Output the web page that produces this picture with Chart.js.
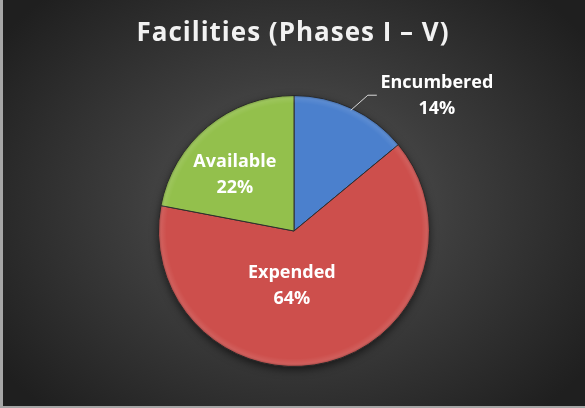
<!DOCTYPE html>
<html>
<head>
<meta charset="utf-8">
<script src="https://cdn.jsdelivr.net/npm/chart.js@4.4.0/dist/chart.umd.min.js"></script>
<style>
  html, body { margin: 0; padding: 0; background: #a6a6a6; }
  #wrap {
    position: absolute; left: 3px; top: 0; width: 582px; height: 406px;
    background: radial-gradient(ellipse 62% 70% at 50% 50%, #5a5a5a 0%, #3d3d3d 45%, #1f1f1f 100%);
  }
  canvas { position: absolute; left: -3px; top: 0; }
</style>
</head>
<body>
<div id="wrap"><canvas id="pieChart" width="585" height="408"></canvas></div>
<script>
// chart data
const categories = ["Encumbered", "Expended", "Available"];
const shares = [14, 64, 22];
const sliceColors = ["#4b80cd", "#cd4f4c", "#93c04c"];
const titleText = "Facilities (Phases I \u2013 V)";

// label nudges relative to each arc's mid point
const labelNudge = [
  { dx: 0, dy: 0, outside: true },
  { dx: -19, dy: -11 },
  { dx: -16, dy: -4 },
];

const FONT = "'Open Sans', 'DejaVu Sans', sans-serif";

const titlePlugin = {
  id: "titleText",
  afterDraw(chart) {
    const ctx = chart.ctx;
    ctx.save();
    ctx.fillStyle = "#f2f2f2";
    ctx.font = "bold 26px " + FONT;
    ctx.letterSpacing = "1px";
    ctx.textAlign = "center";
    ctx.textBaseline = "middle";
    ctx.fillText(titleText, 293, 34);
    ctx.restore();
  },
};

const shadowPlugin = {
  id: "pieShadow",
  beforeDatasetsDraw(chart) {
    const arc = chart.getDatasetMeta(0).data[0];
    const ctx = chart.ctx;
    ctx.save();
    ctx.shadowColor = "rgba(0,0,0,0.6)";
    ctx.shadowBlur = 8;
    ctx.shadowOffsetY = 3;
    ctx.fillStyle = "#333";
    ctx.beginPath();
    ctx.arc(arc.x, arc.y, arc.outerRadius, 0, Math.PI * 2);
    ctx.fill();
    ctx.restore();
  },
};

// soft bevel around the rim
const bevelPlugin = {
  id: "pieBevel",
  afterDatasetsDraw(chart) {
    const arc = chart.getDatasetMeta(0).data[0];
    const ctx = chart.ctx;
    const r = arc.outerRadius;
    ctx.save();
    const g = ctx.createRadialGradient(arc.x, arc.y, r - 8, arc.x, arc.y, r);
    g.addColorStop(0, "rgba(255,255,255,0)");
    g.addColorStop(0.6, "rgba(255,255,255,0.08)");
    g.addColorStop(1, "rgba(0,0,0,0.25)");
    ctx.fillStyle = g;
    ctx.beginPath();
    ctx.arc(arc.x, arc.y, r, 0, Math.PI * 2);
    ctx.fill();
    ctx.restore();
  },
};

const labelPlugin = {
  id: "sliceLabels",
  afterDatasetsDraw(chart) {
    const ctx = chart.ctx;
    const meta = chart.getDatasetMeta(0);
    ctx.save();
    ctx.fillStyle = "#ffffff";
    ctx.font = "bold 18px " + FONT;
    ctx.textAlign = "center";
    ctx.textBaseline = "middle";
    meta.data.forEach((arc, i) => {
      const pct = shares[i] + "%";
      const nudge = labelNudge[i];
      if (nudge.outside) {
        const mid = (arc.startAngle + arc.endAngle) / 2;
        const ex = arc.x + Math.cos(mid) * (arc.outerRadius - 2);
        const ey = arc.y + Math.sin(mid) * (arc.outerRadius - 2);
        ctx.strokeStyle = "#d9d9d9";
        ctx.lineWidth = 1;
        ctx.beginPath();
        ctx.moveTo(ex, ey);
        ctx.lineTo(ex + 17, ey - 15);
        ctx.lineTo(ex + 26, ey - 15);
        ctx.stroke();
        const lx = ex + 86, ly = ey - 14;
        ctx.fillText(categories[i], lx, ly - 13);
        ctx.fillText(pct, lx, ly + 13);
      } else {
        const p = arc.tooltipPosition();
        const lx = p.x + nudge.dx, ly = p.y + nudge.dy;
        ctx.fillText(categories[i], lx, ly - 13);
        ctx.fillText(pct, lx, ly + 13);
      }
    });
    ctx.restore();
  },
};

new Chart(document.getElementById("pieChart"), {
  type: "pie",
  data: {
    labels: categories,
    datasets: [
      {
        data: shares,
        backgroundColor: sliceColors,
        borderColor: "#2e2e2e",
        borderWidth: 1,
      },
    ],
  },
  options: {
    responsive: false,
    animation: false,
    layout: { padding: { left: 158, right: 155, top: 95, bottom: 41 } },
    plugins: {
      legend: { display: false },
      tooltip: { enabled: false },
      title: { display: false },
    },
  },
  plugins: [shadowPlugin, bevelPlugin, labelPlugin, titlePlugin],
});
</script>
</body>
</html>
